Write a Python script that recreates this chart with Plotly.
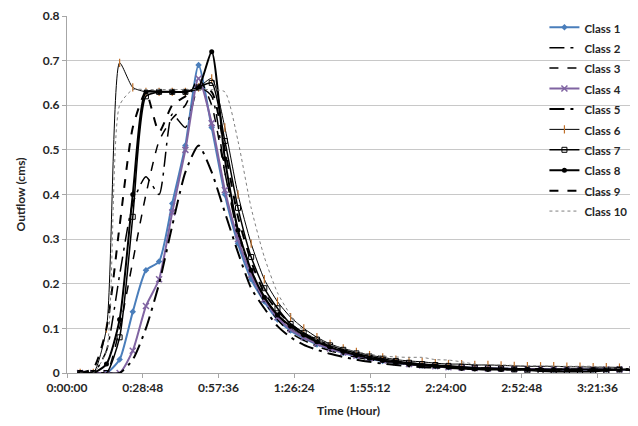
import plotly.graph_objects as go

# time in minutes
time_min = [5, 10, 15, 20, 25, 30, 35, 40, 45, 50, 55, 60, 65, 70, 75, 80, 85, 90, 95, 100,
            105, 110, 115, 120, 125, 130, 135, 140, 145, 150, 155, 160, 165, 170, 175, 180,
            185, 190, 195, 200, 205, 210, 215]

class1 = [0, 0, 0, 0.03, 0.137, 0.23, 0.25, 0.38, 0.51, 0.69, 0.55, 0.40, 0.29, 0.21, 0.16, 0.12,
          0.095, 0.078, 0.064, 0.054, 0.045, 0.038, 0.032, 0.027, 0.023, 0.02, 0.017, 0.015, 0.013,
          0.012, 0.011, 0.01, 0.01, 0.009, 0.009, 0.009, 0.008, 0.008, 0.008, 0.008, 0.008, 0.008, 0.008]
class2 = [0, 0, 0.05, 0.22, 0.38, 0.44, 0.40, 0.58, 0.55, 0.64, 0.62, 0.45, 0.31, 0.22, 0.16, 0.12,
          0.09, 0.073, 0.06, 0.05, 0.042, 0.035, 0.03, 0.026, 0.022, 0.019, 0.016, 0.014, 0.012,
          0.011, 0.01, 0.01, 0.009, 0.009, 0.009, 0.008, 0.008, 0.008, 0.008, 0.008, 0.008, 0.008, 0.008]
class3 = [0, 0, 0, 0.10, 0.25, 0.40, 0.52, 0.57, 0.60, 0.66, 0.60, 0.45, 0.32, 0.23, 0.17, 0.13,
          0.10, 0.08, 0.066, 0.055, 0.046, 0.039, 0.033, 0.028, 0.024, 0.02, 0.017, 0.015, 0.013,
          0.012, 0.011, 0.01, 0.01, 0.009, 0.009, 0.009, 0.008, 0.008, 0.008, 0.008, 0.008, 0.008, 0.008]
class4 = [0, 0, 0, 0, 0.05, 0.15, 0.21, 0.36, 0.50, 0.66, 0.56, 0.41, 0.30, 0.22, 0.165, 0.125,
          0.098, 0.08, 0.066, 0.055, 0.046, 0.039, 0.033, 0.028, 0.024, 0.02, 0.017, 0.015, 0.013,
          0.012, 0.011, 0.01, 0.01, 0.009, 0.009, 0.009, 0.008, 0.008, 0.008, 0.008, 0.008, 0.008, 0.008]
class5 = [0, 0, 0, 0, 0.03, 0.10, 0.20, 0.33, 0.45, 0.51, 0.45, 0.36, 0.27, 0.19, 0.145, 0.105,
          0.08, 0.063, 0.052, 0.043, 0.036, 0.03, 0.025, 0.021, 0.018, 0.015, 0.013, 0.012, 0.011,
          0.01, 0.009, 0.008, 0.008, 0.008, 0.008, 0.007, 0.007, 0.007, 0.007, 0.007, 0.007, 0.007, 0.007]
class6 = [0, 0, 0.10, 0.695, 0.64, 0.63, 0.63, 0.63, 0.63, 0.64, 0.66, 0.55, 0.40, 0.29, 0.21, 0.16,
          0.125, 0.10, 0.08, 0.065, 0.055, 0.047, 0.04, 0.035, 0.03, 0.027, 0.025, 0.022, 0.02,
          0.02, 0.018, 0.018, 0.017, 0.016, 0.015, 0.015, 0.015, 0.014, 0.014, 0.013, 0.013, 0.012, 0.003]
class7 = [0, 0, 0, 0.08, 0.35, 0.62, 0.63, 0.63, 0.63, 0.64, 0.65, 0.52, 0.37, 0.26, 0.19, 0.145,
          0.11, 0.09, 0.075, 0.062, 0.052, 0.044, 0.037, 0.032, 0.027, 0.023, 0.02, 0.018, 0.016,
          0.014, 0.012, 0.011, 0.01, 0.008, 0.006, 0.004, 0.003, 0.003, 0.003, 0.003, 0.005, 0.008, 0.01]
class8 = [0, 0, 0.02, 0.12, 0.40, 0.63, 0.63, 0.63, 0.63, 0.64, 0.72, 0.48, 0.32, 0.23, 0.17, 0.13,
          0.105, 0.085, 0.07, 0.058, 0.048, 0.04, 0.033, 0.028, 0.024, 0.02, 0.017, 0.015, 0.013,
          0.01, 0.009, 0.008, 0.008, 0.008, 0.008, 0.008, 0.008, 0.008, 0.008, 0.008, 0.008, 0.008, 0.008]
class9 = [0, 0.01, 0.10, 0.33, 0.55, 0.63, 0.54, 0.60, 0.62, 0.64, 0.63, 0.50, 0.35, 0.25, 0.18, 0.14,
          0.11, 0.088, 0.072, 0.06, 0.05, 0.042, 0.035, 0.03, 0.026, 0.022, 0.019, 0.016, 0.014,
          0.012, 0.011, 0.01, 0.01, 0.009, 0.009, 0.009, 0.008, 0.008, 0.008, 0.008, 0.008, 0.008, 0.008]
class10 = [0, 0, 0.05, 0.60, 0.635, 0.635, 0.635, 0.635, 0.635, 0.635, 0.635, 0.63, 0.52, 0.37, 0.26, 0.18,
           0.13, 0.095, 0.075, 0.063, 0.055, 0.048, 0.042, 0.038, 0.036, 0.035, 0.035, 0.03, 0.029,
           0.025, 0.02, 0.018, 0.018, 0.017, 0.016, 0.016, 0.015, 0.015, 0.015, 0.015, 0.012, 0.01, 0.01]

tick_vals = [0, 28.8, 57.6, 86.4, 115.2, 144.0, 172.8, 201.6]
tick_text = ["0:00:00", "0:28:48", "0:57:36", "1:26:24", "1:55:12", "2:24:00", "2:52:48", "3:21:36"]

series = [
    ("Class 1", class1, dict(color="#4a7ebb", width=2, dash="solid"),
     dict(symbol="diamond", size=5, color="#4a7ebb")),
    ("Class 2", class2, dict(color="black", width=1.5, dash="longdashdot"), None),
    ("Class 3", class3, dict(color="black", width=1.5, dash="dash"), None),
    ("Class 4", class4, dict(color="#8064a2", width=2, dash="solid"),
     dict(symbol="x-thin", size=6, color="#8064a2", line=dict(color="#8064a2", width=1.5))),
    ("Class 5", class5, dict(color="black", width=2, dash="longdashdot"), None),
    ("Class 6", class6, dict(color="black", width=1, dash="solid"),
     dict(symbol="line-ns", size=6, color="#c0702a", line=dict(color="#c0702a", width=1.2))),
    ("Class 7", class7, dict(color="black", width=1.5, dash="solid"),
     dict(symbol="square-open", size=5, color="black", line=dict(color="black", width=1))),
    ("Class 8", class8, dict(color="black", width=2, dash="solid"),
     dict(symbol="circle", size=5, color="black")),
    ("Class 9", class9, dict(color="black", width=2, dash="dash"), None),
    ("Class 10", class10, dict(color="#7f7f7f", width=1, dash="dot"), None),
]

fig = go.Figure()
for name, vals, line, marker in series:
    label = '<span style="font-size:11.5px">' + name + '</span>'
    kw = dict(x=time_min, y=vals, name=label, line=dict(shape="spline", smoothing=0.6, **line))
    if marker:
        kw["mode"] = "lines+markers"
        kw["marker"] = marker
    else:
        kw["mode"] = "lines"
    fig.add_trace(go.Scatter(**kw))

fnt = "Lato, 'Open Sans', sans-serif"
fig.update_layout(
    width=638, height=426,
    margin=dict(l=67, r=6, t=16, b=53),
    paper_bgcolor="white", plot_bgcolor="white",
    font=dict(family=fnt, size=12, color="#262626"),
    showlegend=True,
    legend=dict(x=0.848, y=1.011, xanchor="left", yanchor="top", bgcolor="rgba(0,0,0,0)",
                font=dict(family=fnt, size=13.4, color="#262626", weight="bold"),
                tracegroupgap=0, itemwidth=30, maxheight=420),
    xaxis=dict(range=[0, 214], tickmode="array", tickvals=tick_vals, ticktext=tick_text,
               showgrid=False, zeroline=False, showline=True, linecolor="#a6a6a6", linewidth=1,
               ticks="outside", ticklen=4, tickcolor="#a6a6a6",
               tickfont=dict(family=fnt, size=12, color="#262626", weight="bold"),
               title=dict(text="<b>Time (Hour)</b>", font=dict(family=fnt, size=12, color="#262626"), standoff=12)),
    yaxis=dict(range=[0, 0.8], dtick=0.1, showgrid=True, gridcolor="#c8c8c8", gridwidth=1,
               zeroline=False, showline=True, linecolor="#a6a6a6", linewidth=1,
               ticks="outside", ticklen=4, tickcolor="#a6a6a6",
               tickfont=dict(family=fnt, size=12, color="#262626", weight="bold"),
               title=dict(text="<b>Outflow (cms)</b>", font=dict(family=fnt, size=12, color="#262626"), standoff=14)),
)

fig.write_html("out.html")
